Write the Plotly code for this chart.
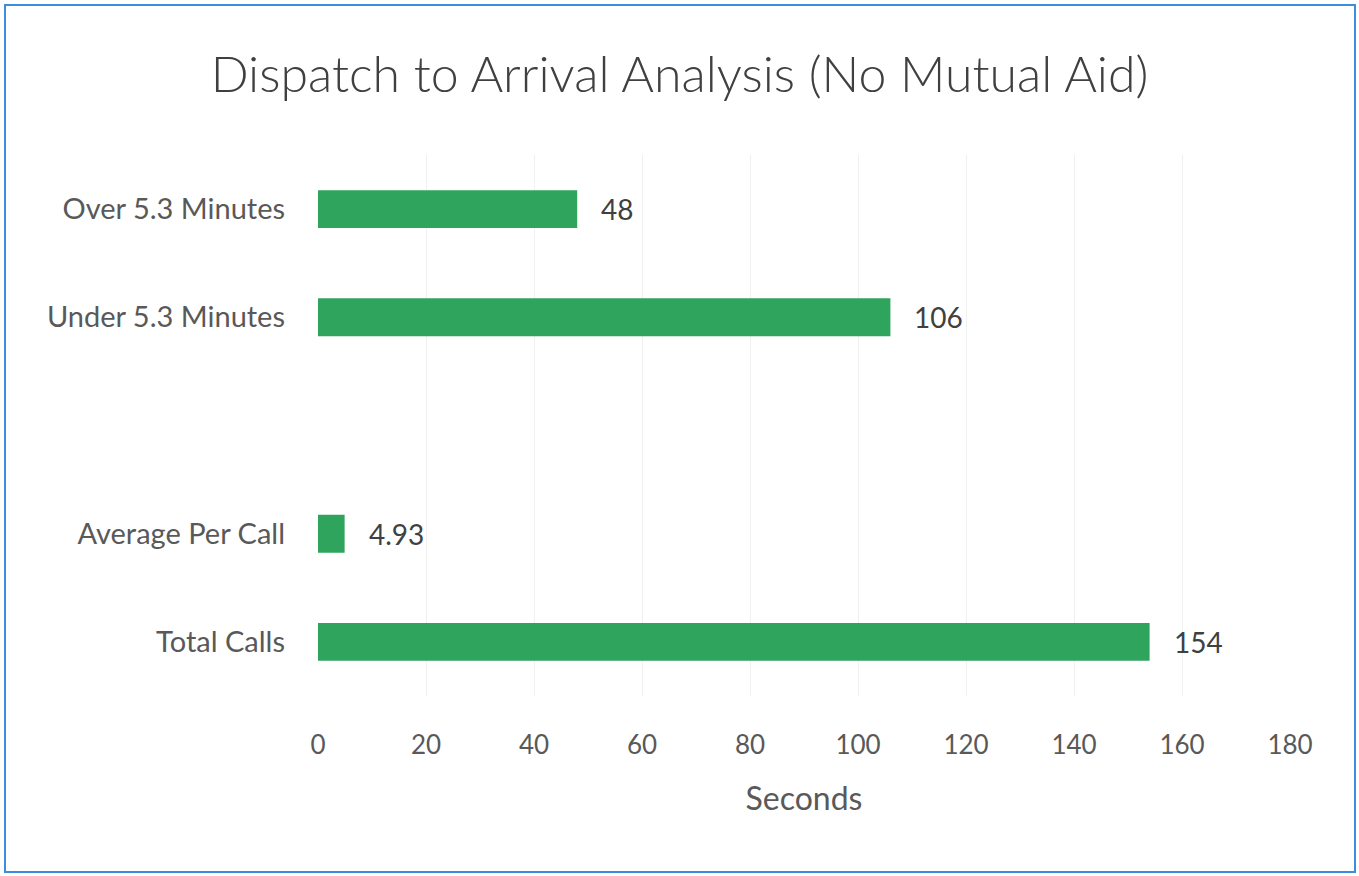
import plotly.graph_objects as go

categories = ["Total Calls", "Average Per Call", " ", "Under 5.3 Minutes", "Over 5.3 Minutes"]
values = [154, 4.93, None, 106, 48]
labels = ["154", "4.93", "", "106", "48"]
x_ticks = [0, 20, 40, 60, 80, 100, 120, 140, 160, 180]

W, H = 1359, 876
L, R, T, B = 318, 69, 155, 180
pw, ph = W - L - R, H - T - B

fig = go.Figure()
fig.add_trace(go.Bar(
    y=categories, x=values, orientation="h",
    marker=dict(color="#2EA45C", line=dict(width=0)),
    hoverinfo="x+y",
))

ann = []
for c, v, t in zip(categories, values, labels):
    if v is None:
        continue
    ann.append(dict(x=v, y=c, xref="x", yref="y", text=t, showarrow=False,
                    xanchor="left", xshift=22,
                    font=dict(family="Lato", size=28, color="#404040")))

def px_x(p):
    return (p - L) / pw

def px_y(p):
    return (H - B - p) / ph

fig.update_layout(
    width=W, height=H,
    margin=dict(l=L, r=R, t=T, b=B),
    paper_bgcolor="white", plot_bgcolor="white",
    bargap=0.65,
    showlegend=False,
    title=dict(text="Dispatch to Arrival Analysis (No Mutual Aid)",
               x=0.5, xanchor="center", xref="container", y=1 - 74 / H, yanchor="middle",
               font=dict(family="Lato", size=50, color="#404040", weight=300)),
    annotations=ann,
    shapes=[dict(type="rect", xref="paper", yref="paper",
                 x0=px_x(5), x1=px_x(1355), y0=px_y(872), y1=px_y(5),
                 line=dict(color="#3A8EE0", width=2), fillcolor="rgba(0,0,0,0)",
                 layer="below")],
    xaxis=dict(range=[0, 180], tickvals=x_ticks, showgrid=True, gridcolor="#F0F0F0",
               gridwidth=1, zeroline=False, showline=False, ticks="",
               ticklabelstandoff=31,
               tickfont=dict(family="Lato", size=26, color="#595959"),
               title=dict(text="Seconds", standoff=28,
                          font=dict(family="Lato", size=32, color="#595959"))),
    yaxis=dict(categoryorder="array", categoryarray=categories, showgrid=False,
               zeroline=False, showline=False, ticks="", ticklabelstandoff=32,
               tickfont=dict(family="Lato", size=29, color="#595959")),
)

fig.write_html("out.html", config={"displayModeBar": False},
               post_script="document.body.style.margin='0';")
